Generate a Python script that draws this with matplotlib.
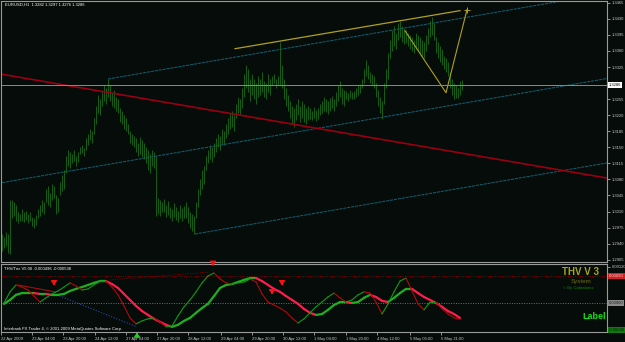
"""MT4 style EURUSD H1 chart with THV/Trix sub-window."""

import matplotlib
matplotlib.use("Agg")
import matplotlib.pyplot as plt
import numpy as np
from matplotlib.collections import LineCollection
from matplotlib.transforms import blended_transform_factory

plt.rcParams["font.family"] = ["Liberation Sans", "DejaVu Sans"]

BG = "#060c09"
FG = "#c8c8c8"
FRAME = "#9a9a9a"

# ---- price bars, one entry per H1 bar (bar index = position on chart)
bar_high = [
    1.2960, 1.2955, 1.2965, 1.2960, 1.3035, 1.3035, 1.3030, 1.3025, 1.3010, 1.3005,
    1.3015, 1.3008, 1.3012, 1.3005, 1.3010, 1.2998, 1.2995, 1.3002, 1.3015, 1.3025,
    1.3035, 1.3030, 1.3060, 1.3065, 1.3050, 1.3070, 1.3065, 1.3045, 1.3040, 1.3075,
    1.3090, 1.3100, 1.3130, 1.3145, 1.3140, 1.3135, 1.3145, 1.3130, 1.3140, 1.3150,
    1.3155, 1.3148, 1.3170, 1.3180, 1.3190, 1.3185, 1.3215, 1.3240, 1.3265, 1.3255,
    1.3270, 1.3285, 1.3280, 1.3300, 1.3285, 1.3270, 1.3275, 1.3260, 1.3255, 1.3235,
    1.3230, 1.3220, 1.3215, 1.3200, 1.3185, 1.3180, 1.3175, 1.3170, 1.3160, 1.3172,
    1.3165, 1.3160, 1.3150, 1.3145, 1.3135, 1.3145, 1.3140, 1.3130, 1.3040, 1.3035,
    1.3030, 1.3038, 1.3025, 1.3032, 1.3020, 1.3015, 1.3028, 1.3020, 1.3012, 1.3025,
    1.3018, 1.3022, 1.3030, 1.3020, 1.3010, 1.3005, 1.3000, 1.3030, 1.3060, 1.3080,
    1.3100, 1.3110, 1.3130, 1.3145, 1.3155, 1.3150, 1.3160, 1.3170, 1.3180, 1.3175,
    1.3190, 1.3185, 1.3200, 1.3215, 1.3225, 1.3230, 1.3220, 1.3245, 1.3260, 1.3255,
    1.3280, 1.3310, 1.3330, 1.3320, 1.3300, 1.3310, 1.3300, 1.3290, 1.3305, 1.3300,
    1.3315, 1.3295, 1.3290, 1.3310, 1.3300, 1.3305, 1.3310, 1.3300, 1.3305, 1.3380,
    1.3330, 1.3300, 1.3280, 1.3265, 1.3250, 1.3240, 1.3235, 1.3245, 1.3255, 1.3240,
    1.3250, 1.3245, 1.3235, 1.3240, 1.3235, 1.3230, 1.3238, 1.3232, 1.3236, 1.3245,
    1.3250, 1.3260, 1.3255, 1.3250, 1.3258, 1.3262, 1.3255, 1.3270, 1.3285, 1.3295,
    1.3280, 1.3275, 1.3272, 1.3268, 1.3275, 1.3270, 1.3272, 1.3280, 1.3285, 1.3288,
    1.3300, 1.3320, 1.3340, 1.3330, 1.3315, 1.3310, 1.3305, 1.3290, 1.3275, 1.3260,
    1.3250, 1.3290, 1.3320, 1.3355, 1.3385, 1.3405, 1.3415, 1.3400, 1.3420, 1.3425,
    1.3415, 1.3410, 1.3405, 1.3400, 1.3395, 1.3390, 1.3385, 1.3400, 1.3395, 1.3390,
    1.3385, 1.3380, 1.3395, 1.3410, 1.3425, 1.3435, 1.3420, 1.3390, 1.3380, 1.3370,
    1.3365, 1.3350, 1.3345, 1.3335, 1.3315, 1.3300, 1.3290, 1.3285, 1.3280, 1.3295,
    1.3297,
]
bar_low = [
    1.2925, 1.2930, 1.2935, 1.2920, 1.2918, 1.2995, 1.3000, 1.2990, 1.2985, 1.2990,
    1.2990, 1.2988, 1.2992, 1.2985, 1.2990, 1.2978, 1.2975, 1.2980, 1.2995, 1.3000,
    1.3010, 1.3005, 1.3030, 1.3025, 1.3020, 1.3035, 1.3040, 1.3005, 1.3010, 1.3045,
    1.3055, 1.3060, 1.3095, 1.3110, 1.3105, 1.3115, 1.3120, 1.3110, 1.3118, 1.3135,
    1.3138, 1.3132, 1.3145, 1.3155, 1.3165, 1.3160, 1.3180, 1.3200, 1.3225, 1.3220,
    1.3240, 1.3250, 1.3245, 1.3260, 1.3250, 1.3240, 1.3235, 1.3230, 1.3225, 1.3205,
    1.3200, 1.3190, 1.3185, 1.3180, 1.3160, 1.3155, 1.3150, 1.3140, 1.3130, 1.3135,
    1.3128, 1.3125, 1.3115, 1.3100, 1.3095, 1.3110, 1.3105, 1.3000, 1.3005, 1.3000,
    1.3008, 1.3010, 1.2998, 1.3002, 1.2995, 1.2990, 1.2998, 1.2992, 1.2988, 1.2995,
    1.2990, 1.2996, 1.2995, 1.2985, 1.2975, 1.2968, 1.2960, 1.2995, 1.3020, 1.3045,
    1.3060, 1.3070, 1.3100, 1.3115, 1.3125, 1.3118, 1.3128, 1.3140, 1.3150, 1.3145,
    1.3158, 1.3155, 1.3170, 1.3180, 1.3190, 1.3195, 1.3185, 1.3215, 1.3225, 1.3220,
    1.3235, 1.3260, 1.3280, 1.3270, 1.3250, 1.3265, 1.3255, 1.3245, 1.3260, 1.3265,
    1.3270, 1.3260, 1.3255, 1.3270, 1.3265, 1.3285, 1.3290, 1.3280, 1.3285, 1.3285,
    1.3280, 1.3255, 1.3240, 1.3230, 1.3215, 1.3200, 1.3195, 1.3210, 1.3220, 1.3205,
    1.3215, 1.3205, 1.3200, 1.3210, 1.3212, 1.3210, 1.3215, 1.3208, 1.3212, 1.3220,
    1.3225, 1.3230, 1.3228, 1.3222, 1.3230, 1.3235, 1.3230, 1.3240, 1.3250, 1.3260,
    1.3245, 1.3240, 1.3255, 1.3252, 1.3258, 1.3255, 1.3256, 1.3260, 1.3265, 1.3268,
    1.3280, 1.3290, 1.3305, 1.3300, 1.3290, 1.3285, 1.3280, 1.3260, 1.3240, 1.3225,
    1.3212, 1.3245, 1.3280, 1.3300, 1.3345, 1.3360, 1.3370, 1.3365, 1.3385, 1.3390,
    1.3380, 1.3375, 1.3378, 1.3370, 1.3365, 1.3360, 1.3355, 1.3365, 1.3360, 1.3355,
    1.3350, 1.3345, 1.3360, 1.3375, 1.3390, 1.3395, 1.3385, 1.3355, 1.3345, 1.3335,
    1.3330, 1.3320, 1.3315, 1.3305, 1.3280, 1.3265, 1.3255, 1.3258, 1.3258, 1.3265,
    1.3276,
]
last_close = 1.3286
info_text = "EURUSD,H1  1.3282 1.3297 1.3276 1.3286"

price_ticks = [1.3465, 1.3430, 1.3395, 1.3360, 1.3325, 1.3255, 1.3220, 1.3185,
               1.3150, 1.3115, 1.3080, 1.3045, 1.3010, 1.2975, 1.2940, 1.2905]

# trend objects: (bar0, price0, bar1, price1)
channel_lines = [
    (53, 1.3299, 302.5, 1.3486),
    (0, 1.3073, 302.5, 1.3300),
    (96.5, 1.2961, 302.5, 1.3116),
]
red_line = (-1, 1.3310, 302.5, 1.3083)
yellow_top = (116.5, 1.3365, 229, 1.3448)
yellow_zig_x = [201.5, 222, 232.5]
yellow_zig_p = [1.3404, 1.3269, 1.3450]

# ---- THV/Trix sub-window, sampled every third bar
ind_x = list(range(1, 230, 3))
trix_fast = [
    0.0, 0.00037, 0.00060, 0.00053, 0.00043, 0.00023, 0.00003, 0.00017, 0.00030, 0.00040,
    0.00053, 0.00067, 0.00057, 0.00043, 0.00047, 0.00060, 0.00073, 0.00073, 0.00053, 0.00027,
    -0.00010, -0.00050, -0.00070, -0.00060, -0.00053, -0.00050, -0.00063, -0.00080, -0.00077, -0.00043,
    -0.00013, 0.00010, 0.00037, 0.00067, 0.00090, 0.00100, 0.00080, 0.00067, 0.00063, 0.00067,
    0.00070, 0.00080, 0.00070, 0.00030, 0.00003, -0.00007, -0.00017, -0.00030, -0.00050, -0.00067,
    -0.00053, -0.00033, -0.00013, 0.00003, 0.00020, 0.00033, 0.00017, 0.00003, 0.00010, 0.00027,
    0.00037, 0.00033, 0.00003, -0.00037, -0.00003, 0.00037, 0.00073, 0.00083, 0.00040, -0.00003,
    -0.00023, 0.00003, 0.00003, -0.00020, -0.00037, -0.00050, -0.00054,
]
trix_slow = [
    -0.00003, 0.00010, 0.00027, 0.00033, 0.00033, 0.00033, 0.00030, 0.00030, 0.00027, 0.00027,
    0.00030, 0.00040, 0.00047, 0.00053, 0.00060, 0.00067, 0.00073, 0.00073, 0.00063, 0.00050,
    0.00030, 0.00010, -0.00010, -0.00027, -0.00040, -0.00053, -0.00063, -0.00073, -0.00080, -0.00073,
    -0.00060, -0.00050, -0.00033, -0.00017, -0.00003, 0.00023, 0.00050, 0.00060, 0.00063, 0.00070,
    0.00077, 0.00083, 0.00083, 0.00073, 0.00060, 0.00047, 0.00037, 0.00023, 0.00010, -0.00003,
    -0.00020, -0.00033, -0.00040, -0.00037, -0.00023, -0.00007, 0.00003, 0.00003, 0.0, 0.00003,
    0.00017, 0.00027, 0.00020, 0.00007, 0.00003, 0.00017, 0.00033, 0.00047, 0.00047, 0.00033,
    0.00020, 0.00010, 0.0, -0.00013, -0.00027, -0.00037, -0.00050,
]
ind_header = "THV/Trix V5.00 -0.000496 -0.000538"
level_hi, level_lo = 0.0009, -0.0009

# signal arrows (bar, value) and divergence lines
sell_arrows = [(26, 0.00050), (105.5, 0.00115), (135, 0.00020), (140, 0.00050)]
buy_arrows = [(67.5, -0.00090)]
div_red = (8, 0.00060, 26.5, 0.00037)
div_blue = (27.5, 0.00027, 67.5, -0.00080)
div_red_dotted = (54, 0.00077, 104, 0.00103)

time_tick_pos = [-0.5, 15, 30.5, 46.5, 62, 77.5, 93, 109.5, 125, 140.5, 156, 172, 187.5, 204, 219.5]
time_tick_labels = ["22 Apr 2009", "23 Apr 04:00", "23 Apr 20:00", "24 Apr 12:00",
                    "27 Apr 04:00", "27 Apr 20:00", "28 Apr 12:00", "29 Apr 04:00",
                    "29 Apr 20:00", "30 Apr 12:00", "1 May 04:00", "1 May 20:00",
                    "4 May 12:00", "5 May 05:00", "5 May 21:00"]


def slope_line(ax, x, y, up, down, lw):
    """Draw a line coloured green/red by the direction of each segment."""
    pts = np.column_stack([x, y])
    segs = np.stack([pts[:-1], pts[1:]], axis=1)
    cols = [up if b >= a else down for a, b in zip(y[:-1], y[1:])]
    ax.add_collection(LineCollection(segs, colors=cols, linewidths=lw, capstyle="round"))


def style_frame(ax):
    for s in ax.spines.values():
        s.set_color(FRAME)
        s.set_linewidth(0.8)


fig = plt.figure(figsize=(6.25, 3.42), dpi=100, facecolor=BG)
ax = fig.add_axes([1 / 625, 80 / 342, 606 / 625, 261 / 342], facecolor=BG)
ind = fig.add_axes([1 / 625, 10 / 342, 606 / 625, 68 / 342], facecolor=BG)

# ---- main chart
bars = np.arange(len(bar_high))
ax.vlines(bars, bar_low, bar_high, color="#176417", linewidth=0.65)

for x0, p0, x1, p1 in channel_lines:
    ax.plot([x0, x1], [p0, p1], color="#135c6c", linewidth=0.75, linestyle=(0, (3, 0.8)))
ax.plot(red_line[::2], red_line[1::2], color="#980012", linewidth=1.2)
ax.plot(yellow_top[::2], yellow_top[1::2], color="#b0a020", linewidth=0.9)
ax.plot(yellow_zig_x, yellow_zig_p, color="#b0a020", linewidth=0.8)
ax.plot(yellow_zig_x[-1:], yellow_zig_p[-1:], marker="+", color="#b0a020", markersize=4, mew=0.7)
ax.axhline(last_close, color="#8a8a8a", linewidth=0.7)

ax.set_xlim(-0.5, 302.5)
ax.set_ylim(1.2900, 1.3469)
ax.yaxis.tick_right()
ax.set_yticks(price_ticks)
ax.set_yticklabels([f"{v:.4f}" for v in price_ticks])
ax.tick_params(axis="y", colors=FG, labelsize=3, length=2, width=0.5, pad=1.5)
ax.set_xticks([])
style_frame(ax)

bt = blended_transform_factory(ax.transAxes, ax.transData)
ax.text(1.003, last_close, f"{last_close:.4f}", transform=bt, ha="left", va="center",
        fontsize=3, color="black",
        bbox=dict(boxstyle="square,pad=0.25", fc="white", ec="none"))
ax.text(0.006, 0.985, info_text, transform=ax.transAxes, ha="left", va="center",
        fontsize=3, color="white")

# ---- indicator window
ind.axhline(level_hi, color="#8b0000", linewidth=0.7, linestyle=(0, (1, 1.5)))
ind.axhline(0, color="#707070", linewidth=0.7, linestyle=(0, (1, 1.5)))
ind.plot(div_red_dotted[::2], div_red_dotted[1::2], color="#8b0000", linewidth=0.7,
         linestyle=(0, (1, 1.5)))
ind.plot(div_red[::2], div_red[1::2], color="#a01010", linewidth=0.8)
ind.plot(div_blue[::2], div_blue[1::2], color="#2a48b0", linewidth=0.8, linestyle=(0, (1, 1.5)))

x_ind = np.array(ind_x, dtype=float)
slope_line(ind, x_ind, np.array(trix_slow), "#1fae1f", "#ff1c4a", 1.6)
slope_line(ind, x_ind, np.array(trix_fast), "#139a13", "#b00a0a", 0.8)

arrow_style = "-|>,head_width=0.18,head_length=0.25"
for bx, v in sell_arrows:
    ind.annotate("", xy=(bx, v), xytext=(0, 5), textcoords="offset points",
                 arrowprops=dict(arrowstyle=arrow_style, color="#ff1010", lw=0.9))
for bx, v in buy_arrows:
    ind.annotate("", xy=(bx, v), xytext=(0, -5), textcoords="offset points",
                 arrowprops=dict(arrowstyle=arrow_style, color="#20d020", lw=0.9))

ind.set_xlim(-0.5, 302.5)
ind.set_ylim(-0.00097, 0.0013)
ind.yaxis.tick_right()
ind.set_yticks([0.0012])
ind.set_yticklabels(["0.00120"])
ind.tick_params(axis="y", colors=FG, labelsize=3, length=2, width=0.5, pad=1.5)
ind.set_xticks(time_tick_pos)
ind.set_xticklabels(time_tick_labels)
for lbl in ind.get_xticklabels():
    lbl.set_horizontalalignment("left")
ind.tick_params(axis="x", colors=FG, labelsize=3, length=2, width=0.5, pad=1.5)
style_frame(ind)

it = blended_transform_factory(ind.transAxes, ind.transData)
for val, fc, tc in [(level_hi, "#d02020", "#f0d0d0"), (0.0, "#8a8a8a", "#202020"),
                    (level_lo, "#107a10", "#052005")]:
    ind.text(1.003, val, f"{val:.5f}", transform=it, ha="left", va="center", fontsize=3,
             color=tc, bbox=dict(boxstyle="square,pad=0.25", fc=fc, ec="none"))

ind.text(0.005, 0.925, ind_header, transform=ind.transAxes, ha="left", va="center",
         fontsize=3, color="white")
ind.text(0.005, 0.045, "Interbank FX Trader 4, \u00a9 2001-2009 MetaQuotes Software Corp.",
         transform=ind.transAxes, ha="left", va="center", fontsize=3, color="white")
ind.text(0.957, 0.88, "THV V 3", transform=ind.transAxes, ha="center", va="center",
         fontsize=7, fontweight="bold", color="#a5a523")
ind.text(0.957, 0.75, "System", transform=ind.transAxes, ha="center", va="center",
         fontsize=4.5, color="#6e6e12")
ind.text(0.953, 0.645, "\u00a9 By Cobraforex", transform=ind.transAxes, ha="center",
         va="center", fontsize=3, color="#0a8a0a")
ind.text(0.978, 0.235, "Label", transform=ind.transAxes, ha="center", va="center",
         fontsize=6.5, fontweight="bold", color="#10e010")

fig.savefig("out.png", dpi=100, facecolor=BG)
